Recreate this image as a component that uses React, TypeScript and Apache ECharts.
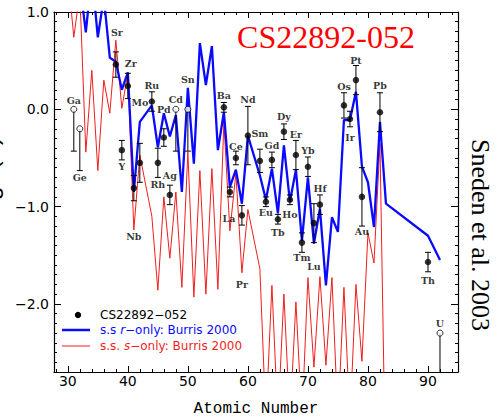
import React, { useEffect, useRef } from "react";
import * as echarts from "echarts";

// ---- observed abundances (CS22892-052) ----
const ELEMENTS = ["Ga", "Ge", "Sr", "Y", "Zr", "Nb", "Mo", "Ru", "Rh", "Pd", "Ag", "Cd", "Sn", "Ba", "La", "Ce", "Pr", "Nd", "Sm", "Eu", "Gd", "Tb", "Dy", "Ho", "Er", "Tm", "Yb", "Lu", "Hf", "Os", "Ir", "Pt", "Au", "Pb", "Th", "U"];
const ATOMIC_NUMBERS = [31, 32, 38, 39, 40, 41, 42, 44, 45, 46, 47, 48, 50, 56, 57, 58, 59, 60, 62, 63, 64, 65, 66, 67, 68, 69, 70, 71, 72, 76, 77, 78, 79, 82, 90, 92];
const LOG_EPS = [0.0, -0.2, 0.46, -0.42, 0.24, -0.81, -0.55, 0.08, -0.55, -0.29, -0.88, 0.0, 0.0, 0.02, -0.85, -0.5, -1.09, -0.27, -0.53, -0.95, -0.52, -1.13, -0.23, -0.93, -0.47, -1.37, -0.59, -1.17, -0.98, 0.04, -0.1, 0.3, -0.9, -0.03, -1.57, -2.3];
const ERR_UP = [0, 0, 0.13, 0.1, 0.13, 0.13, 0.2, 0.1, 0.15, 0.09, 0.1, 0, 0, 0.05, 0.05, 0.07, 0.1, 0.3, 0.12, 0.05, 0.08, 0.05, 0.08, 0.05, 0.15, 0.1, 0.1, 0.2, 0.1, 0.13, 0.08, 0.15, 0.3, 0.2, 0.1, 0];
const ERR_DOWN = [0.43, 0.43, 0.13, 0.1, 0.13, 0.13, 0.2, 0.1, 0.15, 0.09, 0.1, 0.43, 0.43, 0.05, 0.05, 0.07, 0.1, 0.3, 0.12, 0.05, 0.08, 0.05, 0.08, 0.05, 0.15, 0.1, 0.1, 0.2, 0.1, 0.13, 0.08, 0.15, 0.3, 0.2, 0.1, 0.8];
const IS_LIMIT = [true, true, false, false, false, false, false, false, false, false, false, true, true, false, false, false, false, false, false, false, false, false, false, false, false, false, false, false, false, false, false, false, false, false, false, true];

// label placement (pixel offset of each element name from its point)
const LABEL_OFFSETS: [number, number][] = [
  [0, -9], [0, 49], [1, -32], [0, 16], [3, -22], [0, 48], [0, -60], [0, -16], [0, 22], [0, -28], [0, -19], [0, -10], [0, -30],
  [0, -12], [-1, 26], [0, -11], [0, 69], [0, -36], [0, -27], [0, 11], [0, -14], [0, 13], [0, -15], [0, 15], [0, -21], [0, 15],
  [0, -16], [0, 43], [0, -16], [0, -19], [0, 18], [0, -20], [0, 35], [0, -27], [0, 18], [0, -10]
];

// ---- scaled solar r-only (Burris 2000) ----
const R_ONLY_Z = [32, 33, 34, 35, 36, 37, 38, 39, 40, 41, 42, 44, 45, 46, 47, 48, 49, 50, 51, 52, 53, 54, 55, 56, 57, 58, 59, 60, 62, 63, 64, 65, 66, 67, 68, 69, 70, 71, 72, 73, 74, 75, 76, 77, 78, 79, 80, 81, 82, 83, 90, 92];
const R_ONLY_V = [1.3, 0.79, 1.4, 0.74, 1.15, 0.53, 0.49, 0.2, 0.38, -0.85, -0.13, 0.04, -0.39, -0.04, -0.28, -0.06, -0.85, 0.22, -0.56, 0.68, 0.25, 0.65, -0.42, -0.03, -0.8, -0.62, -0.97, -0.27, -0.68, -0.93, -0.61, -1.07, -0.37, -0.95, -0.62, -1.35, -0.7, -1.38, -1.02, -1.81, -1.11, -1.26, -0.11, -0.11, 0.18, -0.59, -0.75, -1.21, -0.13, -0.97, -1.3, -1.55];

// ---- scaled solar s-only (Burris 2000) ----
const S_ONLY_Z = [30, 31, 32, 33, 34, 35, 36, 37, 38, 39, 40, 41, 42, 44, 45, 46, 47, 48, 49, 50, 51, 52, 53, 54, 55, 56, 57, 58, 59, 60, 62, 63, 64, 65, 66, 67, 68, 69, 70, 71, 72, 73, 74, 75, 76, 77, 78, 79, 80, 81, 82, 83];
const S_ONLY_V = [1.4, 0.74, 1.2, -0.44, 0.4, -0.63, 0.3, -0.04, 0.71, 0.01, 0.37, -1.24, -0.47, -1.1, -1.86, -0.9, -1.53, -0.85, -1.83, -0.44, -1.93, -0.63, -1.9, -0.61, -1.85, -0.13, -1.25, -0.66, -1.68, -1.03, -1.64, -3.2, -1.81, -3.2, -1.9, -3.2, -1.98, -3.2, -1.73, -2.65, -1.72, -2.63, -1.73, -3.2, -1.83, -3.2, -1.8, -2.59, -1.27, -1.58, -0.35, -4.0];

// ---- axes ----
const X_MIN = 27.7;
const X_MAX = 95;
const Y_MIN = -2.7;
const Y_MAX = 1.0;
const X_MAJOR = [30, 40, 50, 60, 70, 80, 90];
const Y_MAJOR = [-2, -1, 0, 1];
const X_MINOR: number[] = [];
for (let z = 28; z <= 94; z += 2) if (z % 10 !== 0) X_MINOR.push(z);
const Y_MINOR: number[] = [];
for (let i = -27; i <= 10; i++) if (i % 10 !== 0) Y_MINOR.push(i / 10);

const BLUE = "#0a0aff";
const RED = "#f21d1d";

export default function App() {
  const ref = useRef<HTMLDivElement>(null);

  useEffect(() => {
    if (!ref.current) return;
    const chart = echarts.init(ref.current, null, { renderer: "svg" });
    const black = { color: "#000", width: 1.2 };

    const xAxisBase = (position: string, ticks: number[], len: number, line: boolean, labels: boolean) => ({
      type: "value",
      min: X_MIN,
      max: X_MAX,
      position,
      splitLine: { show: false },
      minorTick: { show: false },
      axisLine: { show: line, onZero: false, lineStyle: black },
      axisTick: { show: true, inside: true, length: len, customValues: ticks, lineStyle: { color: "#000", width: 1 } },
      axisLabel: labels
        ? { show: true, customValues: X_MAJOR, margin: 2, color: "#000", fontFamily: "DejaVu Sans", fontSize: 14 }
        : { show: false },
    });
    const yAxisBase = (position: string, ticks: number[], len: number, line: boolean, labels: boolean) => ({
      type: "value",
      min: Y_MIN,
      max: Y_MAX,
      position,
      splitLine: { show: false },
      minorTick: { show: false },
      axisLine: { show: line, onZero: false, lineStyle: black },
      axisTick: { show: true, inside: true, length: len, customValues: ticks, lineStyle: { color: "#000", width: 1 } },
      axisLabel: labels
        ? {
            show: true,
            customValues: Y_MAJOR,
            margin: 5,
            color: "#000",
            fontFamily: "DejaVu Sans",
            fontSize: 14,
            formatter: (v: number) => (v < 0 ? "\u2212" : "") + Math.abs(v).toFixed(1),
          }
        : { show: false },
    });

    const errData = ATOMIC_NUMBERS.map((z, i) => [z, LOG_EPS[i] + ERR_UP[i], LOG_EPS[i] - ERR_DOWN[i], IS_LIMIT[i] ? 0 : 1]);
    const filled = ATOMIC_NUMBERS.map((z, i) => (IS_LIMIT[i] ? null : [z, LOG_EPS[i]])).filter((d) => d);
    const open = ATOMIC_NUMBERS.map((z, i) => (IS_LIMIT[i] ? [z, LOG_EPS[i]] : null)).filter((d) => d);
    const labelData = ATOMIC_NUMBERS.map((z, i) => ({
      value: [z, LOG_EPS[i]],
      name: ELEMENTS[i],
      label: { offset: LABEL_OFFSETS[i] },
    }));

    const legendFont = { fontFamily: "DejaVu Sans", fontSize: 12 };

    chart.setOption({
      animation: false,
      backgroundColor: "#fff",
      grid: { left: 54, right: 44, top: 12, bottom: 45, containLabel: false },
      xAxis: [
        xAxisBase("bottom", X_MAJOR, 6, true, true),
        xAxisBase("bottom", X_MINOR, 3, false, false),
        xAxisBase("top", X_MAJOR, 6, true, false),
        xAxisBase("top", X_MINOR, 3, false, false),
      ],
      yAxis: [
        yAxisBase("left", Y_MAJOR, 7, true, true),
        yAxisBase("left", Y_MINOR, 3, false, false),
        yAxisBase("right", Y_MAJOR, 7, true, false),
        yAxisBase("right", Y_MINOR, 3, false, false),
      ],
      series: [
        {
          name: "s.s. s-only: Burris 2000",
          type: "line",
          data: S_ONLY_Z.map((z, i) => [z, S_ONLY_V[i]]),
          symbol: "none",
          showSymbol: false,
          clip: true,
          lineStyle: { color: RED, width: 1 },
          z: 2,
        },
        {
          name: "s.s r-only: Burris 2000",
          type: "line",
          data: R_ONLY_Z.map((z, i) => [z, R_ONLY_V[i]]),
          symbol: "none",
          showSymbol: false,
          clip: true,
          lineStyle: { color: BLUE, width: 2.3 },
          z: 3,
        },
        {
          name: "errors",
          type: "custom",
          clip: true,
          z: 4,
          data: errData,
          encode: { x: 0, y: [1, 2] },
          renderItem: (params: any, api: any) => {
            const x = api.value(0);
            const top = api.coord([x, api.value(1)]);
            const bot = api.coord([x, api.value(2)]);
            const w = 3;
            const st = { stroke: "#000", lineWidth: 1 };
            const children: any[] = [
              { type: "line", shape: { x1: top[0], y1: top[1], x2: bot[0], y2: bot[1] }, style: st },
              { type: "line", shape: { x1: bot[0] - w, y1: bot[1], x2: bot[0] + w, y2: bot[1] }, style: st },
            ];
            if (api.value(3)) {
              children.push({ type: "line", shape: { x1: top[0] - w, y1: top[1], x2: top[0] + w, y2: top[1] }, style: st });
            }
            return { type: "group", children };
          },
        },
        {
          name: "CS22892-052",
          type: "scatter",
          data: filled,
          symbol: "circle",
          symbolSize: 6.5,
          itemStyle: { color: "#000" },
          z: 5,
        },
        {
          name: "limits",
          type: "scatter",
          data: open,
          symbol: "circle",
          symbolSize: 6,
          itemStyle: { color: "#fff", borderColor: "#000", borderWidth: 1 },
          z: 5,
        },
        {
          name: "labels",
          type: "scatter",
          data: labelData,
          symbolSize: 1,
          itemStyle: { color: "transparent" },
          z: 6,
          label: {
            show: true,
            position: "inside",
            formatter: (p: any) => p.name,
            color: "#000",
            fontFamily: "DejaVu Serif",
            fontWeight: "bold",
            fontSize: 9.5,
          },
        },
      ],
      graphic: [
        {
          type: "text",
          x: 326,
          y: 37,
          style: {
            text: "CS22892-052",
            fill: "#ff0000",
            fontFamily: "Liberation Serif",
            fontSize: 32,
            textAlign: "center",
            textVerticalAlign: "middle",
          },
        },
        {
          type: "text",
          x: 480,
          y: 235,
          rotation: -Math.PI / 2,
          style: {
            text: "Sneden et al. 2003",
            fill: "#000",
            fontFamily: "Liberation Serif",
            fontSize: 26,
            textAlign: "center",
            textVerticalAlign: "middle",
          },
        },
        {
          type: "text",
          x: 1,
          y: 178,
          rotation: Math.PI / 2,
          style: {
            text: "log \u03b5(X)",
            fill: "#000",
            fontFamily: "Liberation Sans",
            fontSize: 24,
            textAlign: "center",
            textVerticalAlign: "bottom",
          },
        },
        {
          type: "text",
          x: 256,
          y: 409,
          style: {
            text: "Atomic Number",
            fill: "#000",
            fontFamily: "Liberation Mono",
            fontSize: 16,
            textAlign: "center",
            textVerticalAlign: "middle",
          },
        },
        // legend
        { type: "circle", shape: { cx: 78, cy: 315, r: 3.2 }, style: { fill: "#000" } },
        {
          type: "text",
          x: 100,
          y: 315,
          style: { text: "CS22892\u2212052", fill: "#000", ...legendFont, textVerticalAlign: "middle" },
        },
        { type: "line", shape: { x1: 62, y1: 330, x2: 90, y2: 330 }, style: { stroke: BLUE, lineWidth: 2.5 } },
        {
          type: "text",
          x: 100,
          y: 330,
          style: {
            text: "{n|s.s }{i|r}{n|\u2212only: Burris 2000}",
            textVerticalAlign: "middle",
            rich: {
              n: { fill: BLUE, ...legendFont },
              i: { fill: BLUE, ...legendFont, fontStyle: "italic" },
            },
          },
        },
        { type: "line", shape: { x1: 62, y1: 346, x2: 90, y2: 346 }, style: { stroke: RED, lineWidth: 1 } },
        {
          type: "text",
          x: 100,
          y: 346,
          style: {
            text: "{n|s.s. }{i|s}{n|\u2212only: Burris 2000}",
            textVerticalAlign: "middle",
            rich: {
              n: { fill: RED, ...legendFont },
              i: { fill: RED, ...legendFont, fontStyle: "italic" },
            },
          },
        },
      ],
    });

    return () => chart.dispose();
  }, []);

  return (
    <div
      ref={ref}
      style={{ position: "fixed", left: 0, top: 0, width: 502, height: 417, background: "#fff" }}
    />
  );
}
